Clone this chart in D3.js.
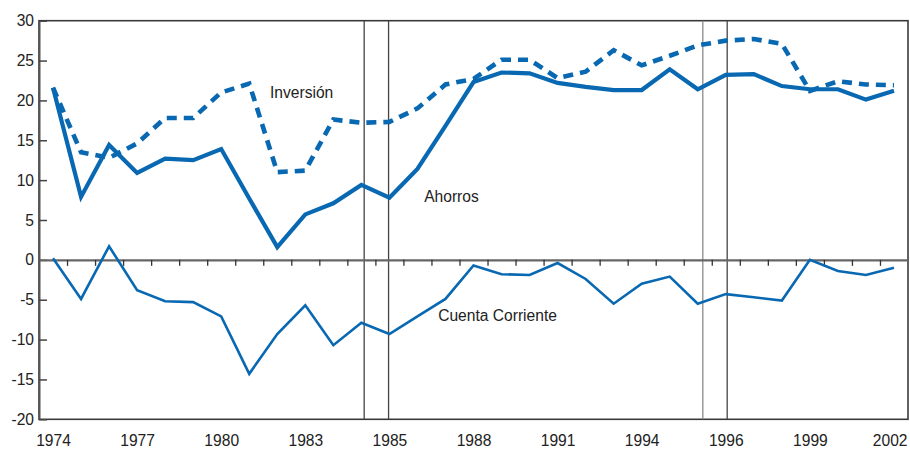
<!DOCTYPE html>
<html><head><meta charset="utf-8">
<script src="https://cdn.jsdelivr.net/npm/d3@7"></script>
<style>
html,body{margin:0;padding:0;background:#fff;}
svg{display:block;font-family:"Liberation Sans",Arial,Helvetica,sans-serif;}
</style></head>
<body><svg id="c" width="910" height="449"></svg>
<script>
// Categories (1985 and 1996 appear twice: series break)
const categories = ["1974","1975","1976","1977","1978","1979","1980","1981","1982","1983","1984","1985","1985","1986","1987","1988","1989","1990","1991","1992","1993","1994","1995","1996","1996","1997","1998","1999","2000","2001","2002"];
const ahorros = [21.6,7.9,14.4,10.9,12.7,12.5,13.9,7.7,1.6,5.7,7.1,9.4,7.8,11.4,16.8,22.3,23.5,23.4,22.2,21.7,21.3,21.3,23.9,21.4,23.2,23.3,21.8,21.4,21.4,20.1,21.2];
const inversion = [21.6,13.5,12.8,14.6,17.8,17.8,21.0,22.1,11.0,11.2,17.6,17.2,17.3,19.0,22.0,22.7,25.1,25.1,22.8,23.6,26.3,24.4,25.6,26.9,27.5,27.7,27.1,21.2,22.4,22.0,21.9];
const cuenta = [0.2,-4.9,1.7,-3.8,-5.2,-5.3,-7.1,-14.3,-9.3,-5.7,-10.7,-7.9,-9.3,-7.1,-4.9,-0.7,-1.8,-1.9,-0.4,-2.4,-5.5,-3.0,-2.1,-5.5,-4.3,-4.7,-5.1,0.0,-1.4,-1.9,-1.0];
const tickLabels = ["1974","1977","1980","1983","1985","1988","1991","1994","1996","1999","2002"];
const yTicks = [30,25,20,15,10,5,0,-5,-10,-15,-20];
const breaks = [11.1, 11.97, 23.18, 24.05];

const svg = d3.select("#c");
const L = 39, R = 908, T = 20.7, B = 419.3;
const n = categories.length;
const x = d3.scaleLinear().domain([-0.5, n - 0.5]).range([L, R]);
const y = d3.scaleLinear().domain([-20, 30]).range([B, T]);
const blue = "#0868b2";
const fontSize = 15.6;

// frame
svg.append("rect").attr("x", L).attr("y", T).attr("width", R - L).attr("height", B - T)
  .attr("fill", "none").attr("stroke", "#3a3a3a").attr("stroke-width", 1.6);

// break lines
svg.selectAll("line.brk").data(breaks).enter().append("line")
  .attr("x1", d => x(d)).attr("x2", d => x(d)).attr("y1", T).attr("y2", B)
  .attr("stroke", (d, i) => i === 2 ? "#8a8a8a" : "#444").attr("stroke-width", 1.3);

// left axis
const yAxis = svg.append("g").attr("transform", `translate(${L},0)`)
  .call(d3.axisLeft(y).tickValues(yTicks).tickSize(-8).tickSizeOuter(0).tickPadding(5).tickFormat(d3.format("d")));
yAxis.select(".domain").attr("stroke", "#555").attr("stroke-width", 2);
yAxis.selectAll(".tick line").attr("stroke", "#444").attr("stroke-width", 1.5);
yAxis.selectAll(".tick text").attr("font-size", fontSize).attr("fill", "#222")
  .attr("font-family", "Liberation Sans, Arial, sans-serif").text(d => d < 0 ? "-" + Math.abs(d) : d);

// zero axis with ticks between categories
const tickPos = d3.range(0.5, n - 1, 1);
const zAxis = svg.append("g").attr("transform", `translate(0,${y(0)})`)
  .call(d3.axisBottom(x).tickValues(tickPos).tickSize(6).tickSizeOuter(0).tickFormat(""));
zAxis.select(".domain").attr("stroke", "#666").attr("stroke-width", 2.2);
zAxis.selectAll(".tick line").attr("stroke", "#333").attr("stroke-width", 1.3);

// bottom labels
const labIdx = d3.range(0, n, 3);
const bAxis = svg.append("g").attr("transform", `translate(0,${B})`)
  .call(d3.axisBottom(x).tickValues(labIdx).tickSize(0).tickPadding(15.8).tickFormat((d, i) => tickLabels[i]));
bAxis.select(".domain").remove();
bAxis.selectAll(".tick text").attr("font-size", fontSize).attr("fill", "#222")
  .attr("font-family", "Liberation Sans, Arial, sans-serif");
// last label ends at the frame edge
bAxis.selectAll(".tick").filter((d, i, nodes) => i === nodes.length - 1).select("text")
  .attr("text-anchor", "end").attr("dx", R - 1 - x(n - 1));

const line = d3.line().x((d, i) => x(i)).y(d => y(d));

svg.append("path").datum(cuenta).attr("d", line).attr("fill", "none")
  .attr("stroke", blue).attr("stroke-width", 2.6).attr("stroke-linejoin", "miter");
svg.append("path").datum(inversion).attr("d", line).attr("fill", "none")
  .attr("stroke", blue).attr("stroke-width", 4.6).attr("stroke-dasharray", "10,7");
svg.append("path").datum(ahorros).attr("d", line).attr("fill", "none")
  .attr("stroke", blue).attr("stroke-width", 4.2).attr("stroke-linejoin", "miter");

// series labels
const labels = [
  {t: "Inversión", i: 7.74, v: 20.3},
  {t: "Ahorros", i: 13.24, v: 7.3},
  {t: "Cuenta Corriente", i: 13.74, v: -7.66}
];
svg.selectAll("text.lab").data(labels).enter().append("text")
  .attr("x", d => x(d.i)).attr("y", d => y(d.v)).text(d => d.t)
  .attr("font-size", fontSize).attr("fill", "#222");
</script></body></html>
